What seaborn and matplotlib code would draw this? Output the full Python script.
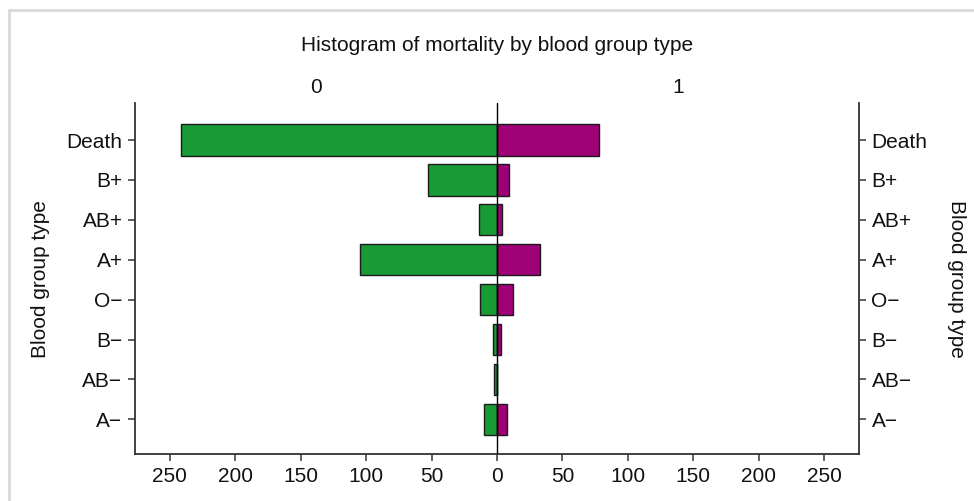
import numpy as np
import pandas as pd
import seaborn as sns
import matplotlib.pyplot as plt
from matplotlib.lines import Line2D

# values (counts per blood group)
groups = ["Death", "B+", "AB+", "A+", "O−", "B−", "AB−", "A−"]
count_0 = [241, 53, 14, 105, 13, 3, 2, 10]
count_1 = [78, 9, 4, 33, 12, 3, 0, 8]
xticks = [-250, -200, -150, -100, -50, 0, 50, 100, 150, 200, 250]

GREEN = "#189a35"
PURPLE = "#9e0076"
INK = "#111111"

sns.set_theme(style="white")
plt.rcParams['font.family'] = ['Liberation Sans', 'DejaVu Sans']
plt.rcParams['font.size'] = 15
plt.rcParams['text.color'] = INK
plt.rcParams['axes.labelcolor'] = INK
plt.rcParams['xtick.color'] = INK
plt.rcParams['ytick.color'] = INK

df = pd.DataFrame({
    "group": groups,
    "left": [-v for v in count_0],
    "right": count_1,
})

fig = plt.figure(figsize=(9.74, 5.01), dpi=100)
ax = fig.add_axes([0.1386, 0.0938, 0.7433, 0.7003])

sns.barplot(data=df, x="left", y="group", order=groups, color=GREEN,
            saturation=1, width=0.78, edgecolor="#1a1a1a", linewidth=1.0, ax=ax)
sns.barplot(data=df, x="right", y="group", order=groups, color=PURPLE,
            saturation=1, width=0.78, edgecolor="#1a1a1a", linewidth=1.0, ax=ax)

ax.set_xlim(-276.5, 276.5)
ax.set_ylim(7.87, -0.925)
ax.axvline(0, color="black", lw=1.0, zorder=5)

ax.set_xticks(xticks)
ax.set_xticklabels([str(abs(t)) for t in xticks])
ax.set_xlabel("")
ax.set_ylabel("Blood group type", fontsize=15, labelpad=12)

for side in ["left", "right", "bottom"]:
    ax.spines[side].set_color("#333333")
    ax.spines[side].set_linewidth(1.3)
ax.spines["top"].set_visible(False)

ax.tick_params(axis="both", which="both", length=5, width=1.1, color="#333333",
               labelsize=15, pad=4, bottom=True, left=True)

# right hand side copy of the group axis
ax2 = ax.twinx()
ax2.set_ylim(ax.get_ylim())
ax2.set_yticks(range(len(groups)))
ax2.set_yticklabels(groups)
ax2.set_ylabel("Blood group type", fontsize=15, rotation=-90, labelpad=28)
ax2.tick_params(axis="y", length=5, width=1.1, color="#333333", labelsize=15, pad=4, right=True)
for s in ax2.spines.values():
    s.set_visible(False)

# panel headers and title
ax.text(0.25, 1.045, "0", transform=ax.transAxes, ha="center", va="center", fontsize=15)
ax.text(0.75, 1.045, "1", transform=ax.transAxes, ha="center", va="center", fontsize=15)
fig.text(0.5103, 0.910, "Histogram of mortality by blood group type",
         ha="center", va="center", fontsize=15)

# light frame around the graph region
fig.add_artist(Line2D([0.0095, 1.0], [0.98, 0.98], transform=fig.transFigure,
                      color="#d9d9d9", lw=2))
fig.add_artist(Line2D([0.0095, 0.0095], [0.0, 0.98], transform=fig.transFigure,
                      color="#d9d9d9", lw=2))

fig.savefig("out.png", dpi=100)
